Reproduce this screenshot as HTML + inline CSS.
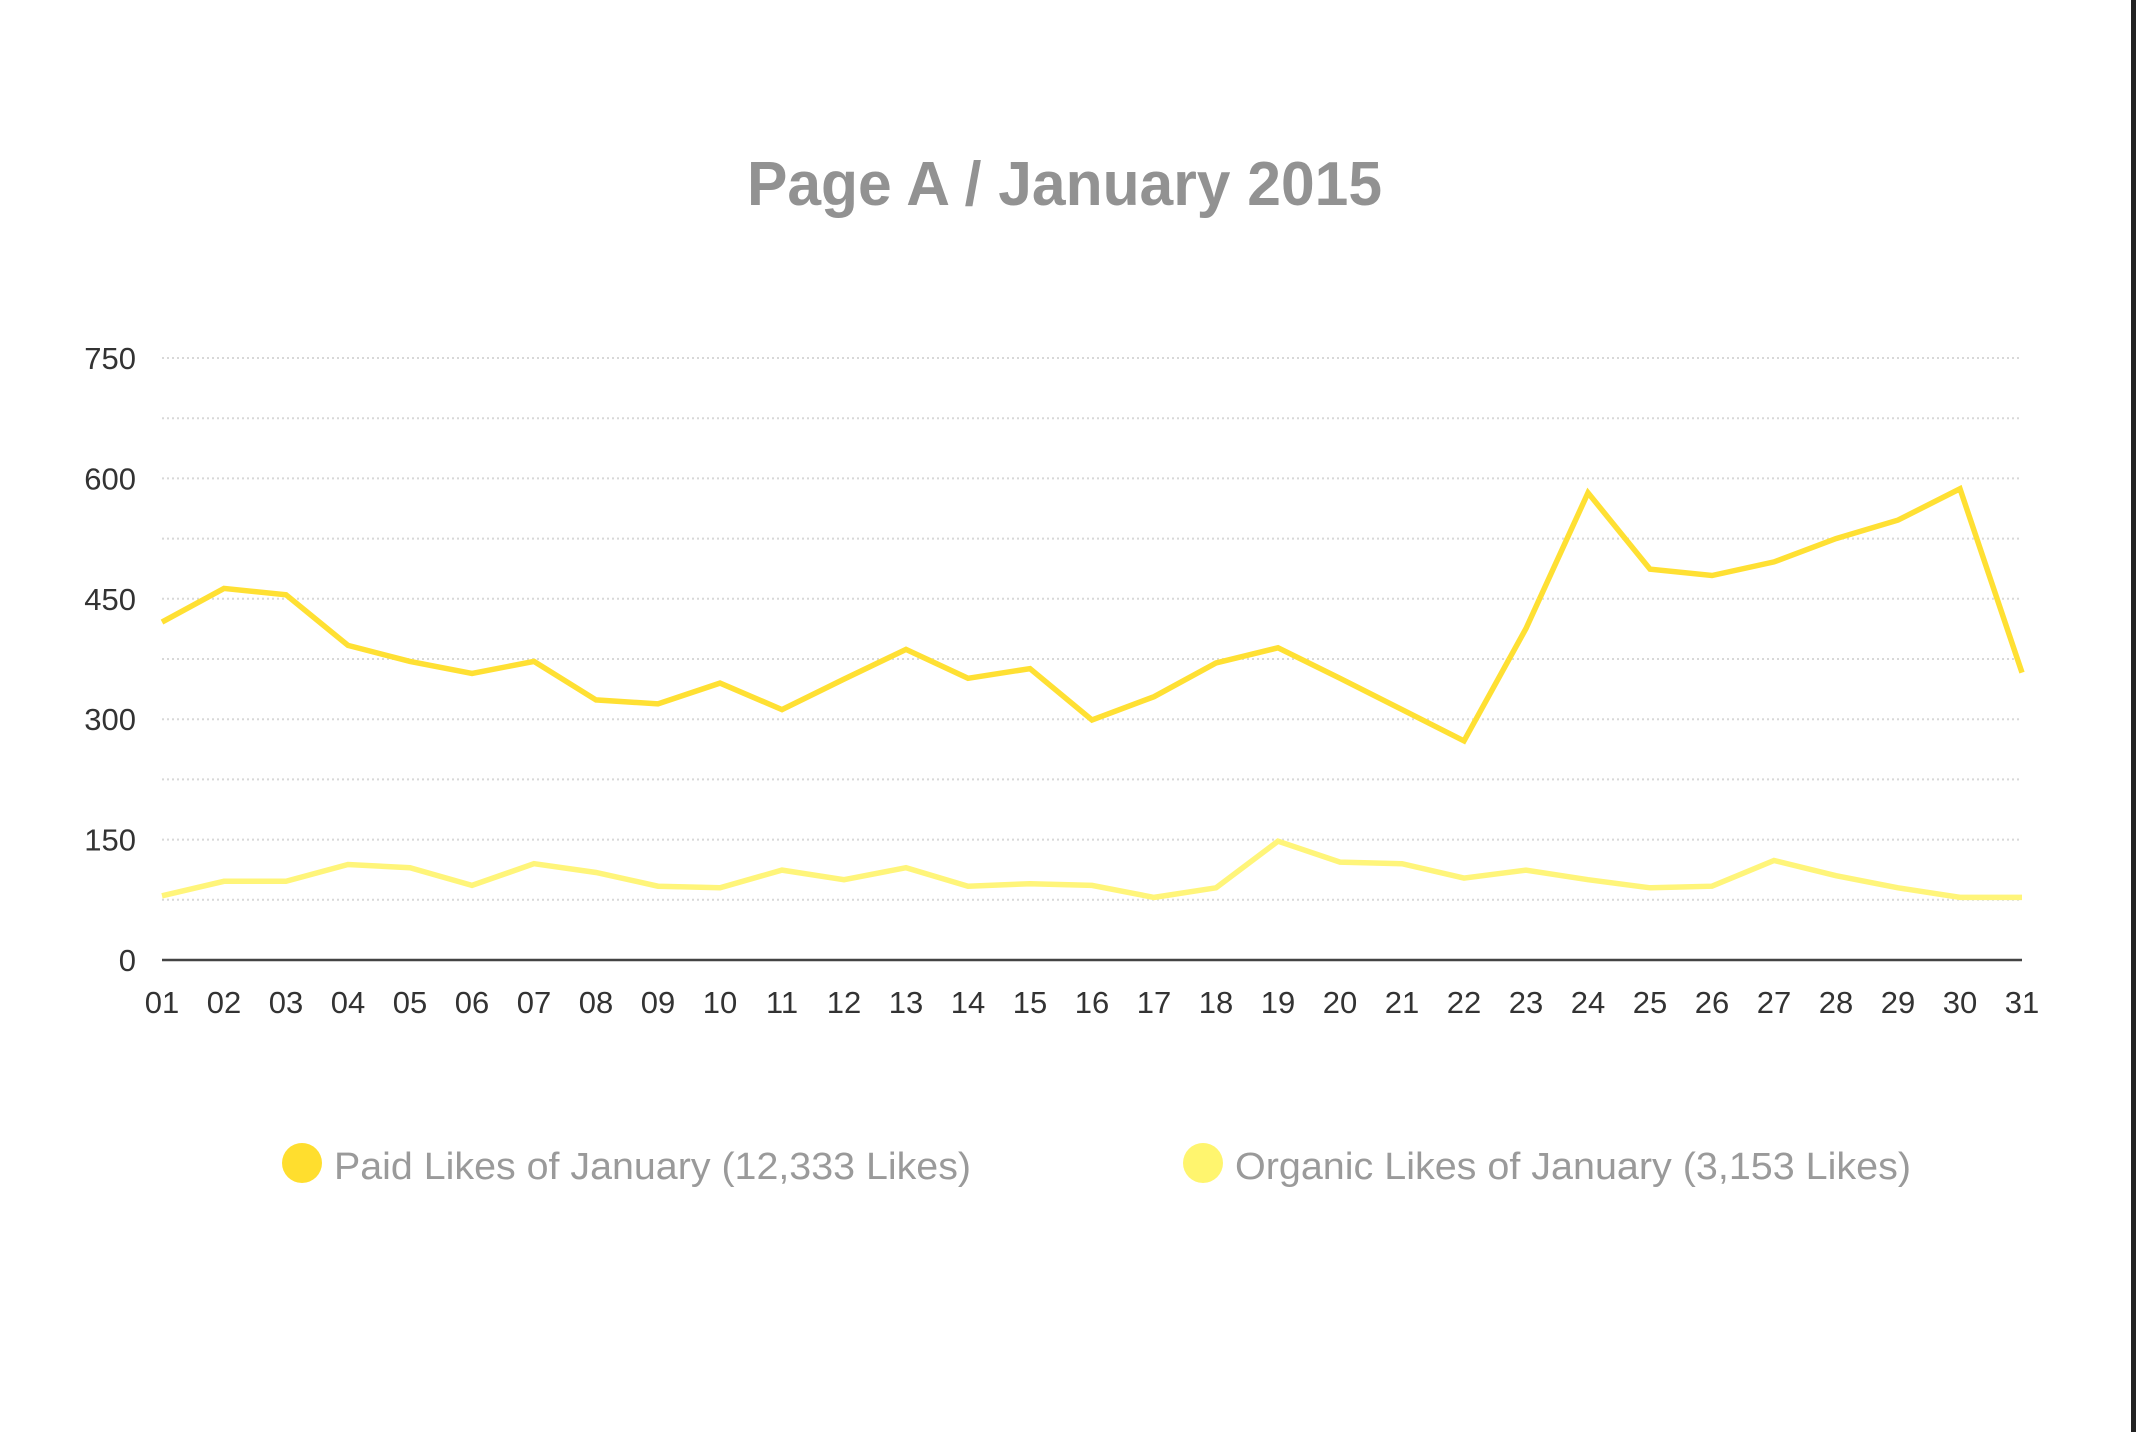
<!DOCTYPE html>
<html><head><meta charset="utf-8"><style>
html,body{margin:0;padding:0;background:#fff;}
svg{display:block;font-family:"Liberation Sans",Arial,sans-serif;}
</style></head><body>
<svg id="chart" width="2136" height="1432" viewBox="0 0 2136 1432">
<rect x="2131" y="0" width="5" height="1432" fill="#222"/>
<text x="747" y="205" font-size="62" font-weight="bold" fill="#929292" textLength="635" lengthAdjust="spacingAndGlyphs">Page A / January 2015</text>
<g id="grid"></g>
<g id="yticks"></g>
<g id="xticks"></g>
<g id="series"></g>
<g>
<circle cx="302" cy="1163" r="20" fill="#FFDE2E"/>
<text x="334" y="1179" font-size="38" fill="#9a9a9a" textLength="637" lengthAdjust="spacingAndGlyphs">Paid Likes of January (12,333 Likes)</text>
<circle cx="1203" cy="1163" r="20" fill="#FFF56E"/>
<text x="1235" y="1179" font-size="38" fill="#9a9a9a" textLength="676" lengthAdjust="spacingAndGlyphs">Organic Likes of January (3,153 Likes)</text>
</g>
</svg>
<script>
const categories = ["01","02","03","04","05","06","07","08","09","10","11","12","13","14","15","16","17","18","19","20","21","22","23","24","25","26","27","28","29","30","31"];
const paidLikes = [421,463,455,392,372,357,372,324,319,345,312,350,387,351,363,299,328,370,389,351,312,273,413,582,487,479,496,525,548,587,358];
const organicLikes = [80,98,98,119,115,93,120,109,92,90,112,100,115,92,95,93,78,90,148,122,120,102,112,100,90,92,124,105,90,78,78];
const yTickLabels = [0,150,300,450,600,750];
const gridValues = [75,150,225,300,375,450,525,600,675,750];

const NS = "http://www.w3.org/2000/svg";
const X0 = 162, X1 = 2022, Y0 = 960, Y750 = 358;
function xScale(i){ return X0 + (X1 - X0) * i / (categories.length - 1); }
function yScale(v){ return Y0 - (Y0 - Y750) * v / 750; }
function mk(tag, attrs){ const e = document.createElementNS(NS, tag); for (const k in attrs) e.setAttribute(k, attrs[k]); return e; }

const grid = document.getElementById('grid');
gridValues.forEach(v => {
  const l = mk('line', {x1: X0, x2: X1, y1: yScale(v), y2: yScale(v), stroke: '#d8d8d8', 'stroke-width': 2, 'stroke-dasharray': '2 3'});
  
  
  grid.appendChild(l);
});
const axis = mk('line', {x1: X0, x2: X1, y1: Y0, y2: Y0, stroke: '#444', 'stroke-width': 2.5});


grid.appendChild(axis);

const yt = document.getElementById('yticks');
yTickLabels.forEach(v => {
  const t = mk('text', {x: 136, y: yScale(v) + 11, 'font-size': 31, fill: '#333', 'text-anchor': 'end'});
  t.textContent = v;
  
  
  yt.appendChild(t);
});
const xt = document.getElementById('xticks');
categories.forEach((c, i) => {
  const t = mk('text', {x: xScale(i), y: 1013, 'font-size': 31, fill: '#333', 'text-anchor': 'middle'});
  t.textContent = c;
  
  
  xt.appendChild(t);
});

const series = document.getElementById('series');
function drawLine(vals, color, name){
  const pts = vals.map((v, i) => xScale(i).toFixed(1) + ',' + yScale(v).toFixed(1)).join(' ');
  const p = mk('polyline', {points: pts, fill: 'none', stroke: color, 'stroke-width': 5.5, 'stroke-linejoin': 'miter'});
  
  
  series.appendChild(p);
}
drawLine(organicLikes, '#FFF57A', 'organic-likes-line');
drawLine(paidLikes, '#FFE033', 'paid-likes-line');
</script>
</body></html>
